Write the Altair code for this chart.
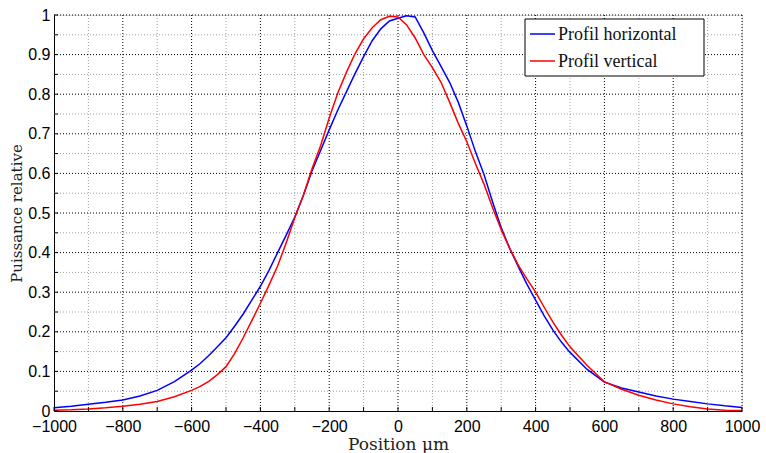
import altair as alt
import pandas as pd

# Beam profile measured along the two axes (relative power vs. position in µm)
positions = (
    list(range(-1000, -600, 50))
    + list(range(-600, 525, 25))
    + list(range(550, 1001, 50))
)
profil_horizontal = [
    # -1000 .. -650
    0.008, 0.012, 0.017, 0.022, 0.028, 0.038, 0.052, 0.074,
    # -600 .. -325
    0.103, 0.120, 0.140, 0.162, 0.185, 0.214, 0.245, 0.280, 0.315, 0.355,
    0.400, 0.444,
    # -300 .. -25
    0.490, 0.545, 0.606, 0.658, 0.710, 0.760, 0.806, 0.852, 0.895, 0.935,
    0.965, 0.985,
    # 0 .. 275
    0.992, 0.998, 0.995, 0.955, 0.910, 0.870, 0.830, 0.780, 0.720, 0.655,
    0.597, 0.528,
    # 300 .. 500
    0.463, 0.410, 0.364, 0.320, 0.280, 0.240, 0.205, 0.174, 0.148,
    # 550 .. 1000
    0.105, 0.073, 0.058, 0.048, 0.038, 0.030, 0.024, 0.018, 0.013, 0.009,
]
profil_vertical = [
    # -1000 .. -650
    0.002, 0.003, 0.005, 0.008, 0.012, 0.017, 0.024, 0.036,
    # -600 .. -325
    0.052, 0.062, 0.075, 0.092, 0.112, 0.145, 0.185, 0.228, 0.272, 0.318,
    0.366, 0.425,
    # -300 .. -25
    0.488, 0.545, 0.612, 0.670, 0.740, 0.803, 0.855, 0.902, 0.940, 0.968,
    0.988, 0.997,
    # 0 .. 275
    0.995, 0.975, 0.942, 0.900, 0.867, 0.830, 0.780, 0.727, 0.680, 0.625,
    0.573, 0.513,
    # 300 .. 500
    0.458, 0.410, 0.368, 0.333, 0.300, 0.262, 0.225, 0.192, 0.162,
    # 550 .. 1000
    0.115, 0.074, 0.055, 0.040, 0.028, 0.018, 0.011, 0.005, 0.002, 0.001,
]
series_names = ["Profil horizontal", "Profil vertical"]
series_colors = ["#0000ff", "#ff0000"]

x_major = list(range(-1000, 1001, 200))
x_minor = list(range(-900, 1000, 200))
y_major = [round(0.1 * i, 1) for i in range(11)]
y_minor = [round(0.05 + 0.1 * i, 2) for i in range(10)]

W, H = 688, 396

df = pd.DataFrame({
    "x": positions * 2,
    "y": profil_horizontal + profil_vertical,
    "serie": [series_names[0]] * len(positions) + [series_names[1]] * len(positions),
})

xscale = alt.Scale(domain=[-1000, 1000], nice=False, zero=False)
yscale = alt.Scale(domain=[0, 1], nice=False, zero=False)

x_axis = alt.Axis(
    values=x_major, format="d", title="Position μm", grid=False, ticks=False,
    tickSize=0, labelPadding=7, titlePadding=2, domainColor="black",
    domainWidth=1, labelOverlap=False,
    labelFont="Liberation Sans", labelFontSize=16, labelColor="black",
    titleFont="DejaVu Serif", titleFontSize=17, titleFontWeight="normal",
    titleColor="#222222", labelFlush=False,
)
y_axis = alt.Axis(
    values=y_major, format="~g", title="Puissance relative", grid=False,
    ticks=False, tickSize=0, labelPadding=4, titlePadding=3,
    domainColor="black", domainWidth=1, labelOverlap=False,
    labelFont="Liberation Sans", labelFontSize=16, labelColor="black",
    titleFont="DejaVu Serif", titleFontSize=15, titleFontWeight="normal",
    titleColor="#222222", labelFlush=False,
)


def xq(field="x"):
    return alt.X(f"{field}:Q", scale=xscale, axis=x_axis)


def yq(field="y"):
    return alt.Y(f"{field}:Q", scale=yscale, axis=y_axis)


xgrid_minor = alt.Chart(pd.DataFrame({"x": x_minor})).mark_rule(
    color="#a0a0a0", strokeDash=[1, 2], strokeWidth=1
).encode(x=xq())
ygrid_minor = alt.Chart(pd.DataFrame({"y": y_minor})).mark_rule(
    color="#a0a0a0", strokeDash=[1, 2], strokeWidth=1
).encode(y=yq())
xgrid_major = alt.Chart(pd.DataFrame({"x": x_major[1:]})).mark_rule(
    color="#000000", strokeDash=[1, 2], strokeWidth=1
).encode(x=xq())
ygrid_major = alt.Chart(pd.DataFrame({"y": y_major[1:]})).mark_rule(
    color="#000000", strokeDash=[1, 2], strokeWidth=1
).encode(y=yq())

# inward tick marks on the bottom and left axes
xticks = alt.Chart(pd.DataFrame({"x": x_major + x_minor})).mark_rule(
    color="black", strokeWidth=1
).encode(x=xq(), y=alt.value(H), y2=alt.value(H - 4))
yticks = alt.Chart(pd.DataFrame({"y": y_major + y_minor})).mark_rule(
    color="black", strokeWidth=1
).encode(y=yq(), x=alt.value(0), x2=alt.value(4))

lines = alt.Chart(df).mark_line(strokeWidth=1.5, interpolate="linear", clip=True).encode(
    x=xq(),
    y=yq(),
    color=alt.Color(
        "serie:N",
        scale=alt.Scale(domain=series_names, range=series_colors),
        legend=None,
    ),
)

# boxed legend in the upper right corner of the plot
legend_box = alt.Chart(pd.DataFrame({"k": [0]})).mark_rect(
    fill="white", stroke="black", strokeWidth=1
).encode(x=alt.value(471), x2=alt.value(650), y=alt.value(4), y2=alt.value(61))

legend_layers = [legend_box]
for i, (name, col) in enumerate(zip(series_names, series_colors)):
    row_y = 19 + 27 * i
    legend_layers.append(
        alt.Chart(pd.DataFrame({"k": [0]})).mark_rule(color=col, strokeWidth=1.5).encode(
            x=alt.value(476), x2=alt.value(501), y=alt.value(row_y)
        )
    )
    legend_layers.append(
        alt.Chart(pd.DataFrame({"k": [0]})).mark_text(
            align="left", baseline="middle", font="Liberation Serif",
            fontSize=18, color="#111111", text=name,
        ).encode(x=alt.value(504), y=alt.value(row_y + 1))
    )

chart = alt.layer(
    xgrid_minor, ygrid_minor, xgrid_major, ygrid_major, lines, xticks, yticks,
    *legend_layers,
).properties(
    width=W, height=H,
    autosize=alt.AutoSizeParams(type="none"),
    padding={"left": 54, "top": 15, "right": 24, "bottom": 42},
).configure_view(stroke=None).configure(background="white")

chart.save("out.html", embed_options={"renderer": "svg", "actions": False})
